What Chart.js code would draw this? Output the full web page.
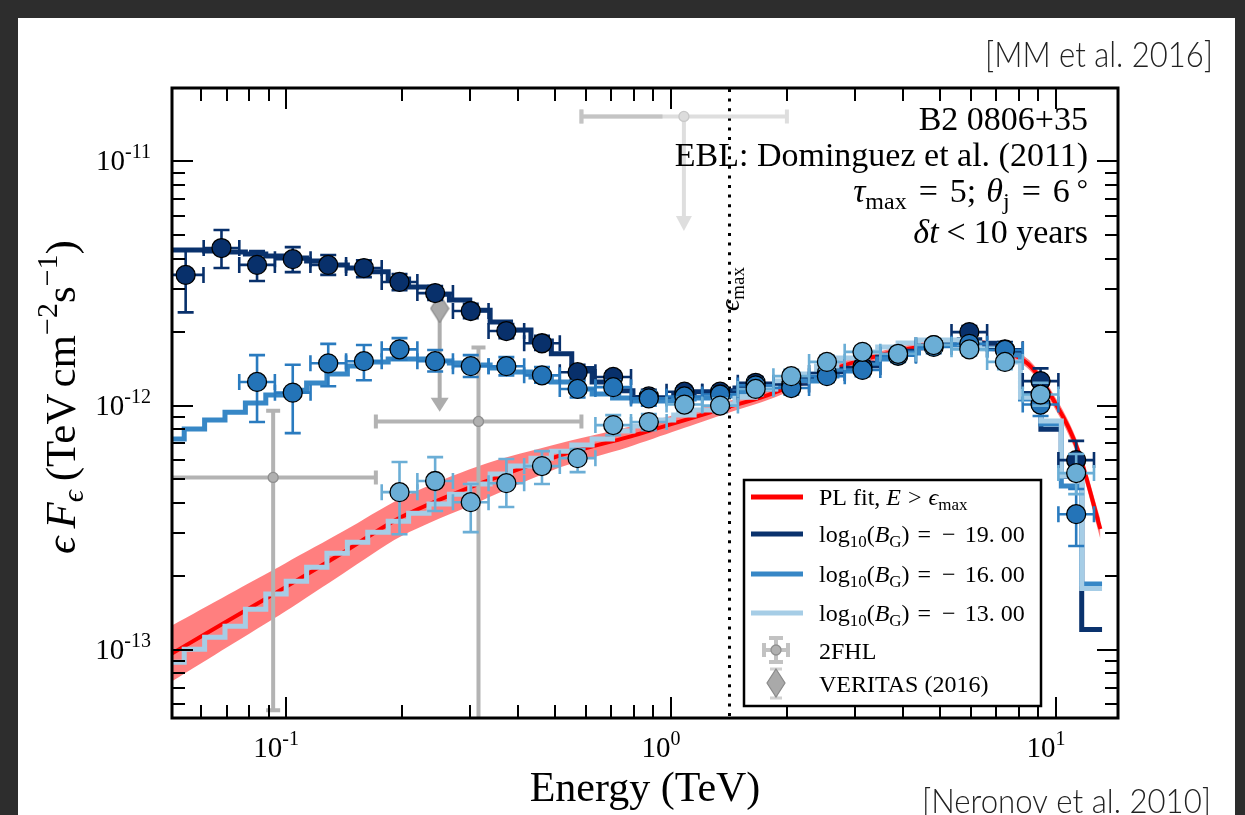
<!DOCTYPE html>
<html>
<head>
<meta charset="utf-8">
<script src="https://cdn.jsdelivr.net/npm/chart.js@4.4.1/dist/chart.umd.min.js"></script>
<style>
  html, body { margin: 0; padding: 0; width: 1245px; height: 815px; overflow: hidden; background: #2d2d2d; }
  #slide { position: absolute; left: 18px; top: 18px; width: 1217px; height: 797px; background: #ffffff; }
  #sed { position: absolute; left: 0; top: 0; }
</style>
</head>
<body>
<div id="slide"></div>
<canvas id="sed" width="1245" height="815"></canvas>
<script>
// ---------------------------------------------------------------------------
// Spectral energy distribution of B2 0806+35: simulated cascade spectra for
// three IGMF strengths, the intrinsic power-law fit and archival data.
// ---------------------------------------------------------------------------

// Energy bins of the simulated observed spectra (TeV)
const binEnergy = [0.0548, 0.0679, 0.0840, 0.1040, 0.1286, 0.1592, 0.1970, 0.2438, 0.3017, 0.3733,
                   0.4620, 0.5717, 0.7075, 0.8755, 1.083, 1.341, 1.659, 2.053, 2.541, 3.144,
                   3.890, 4.814, 5.957, 7.372, 9.123, 11.29];
const binLow    = [0.04926, 0.06104, 0.07551, 0.09349, 0.1156, 0.1431, 0.1771, 0.2192, 0.2712, 0.3356,
                   0.4153, 0.5139, 0.6360, 0.7870, 0.9735, 1.205, 1.491, 1.845, 2.284, 2.826,
                   3.497, 4.327, 5.355, 6.627, 8.201, 10.15];
const binHigh   = [0.06097, 0.07554, 0.09345, 0.1157, 0.1431, 0.1771, 0.2192, 0.2712, 0.3356, 0.4153,
                   0.5140, 0.6360, 0.7871, 0.9740, 1.205, 1.492, 1.846, 2.284, 2.827, 3.498,
                   4.328, 5.356, 6.627, 8.201, 10.15, 12.56];

// log10(B_G) = -19 : simulated data points (TeV cm^-2 s^-1)
const darkFlux = [3.43e-12, 4.42e-12, 3.77e-12, 3.98e-12, 3.77e-12, 3.66e-12, 3.21e-12, 2.89e-12, 2.44e-12, 2.02e-12,
                  1.80e-12, 1.37e-12, 1.31e-12, 1.09e-12, 1.14e-12, 1.14e-12, 1.24e-12, 1.22e-12, 1.36e-12, 1.44e-12,
                  1.61e-12, 1.77e-12, 2.00e-12, 1.70e-12, 1.26e-12, 5.98e-13];
const darkHi   = [4.37e-12, 5.24e-12, 4.30e-12, 4.46e-12, 4.14e-12, 3.94e-12, 3.46e-12, 3.09e-12, 2.61e-12, 2.16e-12,
                  1.93e-12, 1.47e-12, 1.38e-12, 1.16e-12, 1.20e-12, 1.20e-12, 1.31e-12, 1.30e-12, 1.44e-12, 1.52e-12,
                  1.70e-12, 1.87e-12, 2.12e-12, 1.82e-12, 1.42e-12, 7.17e-13];
const darkLo   = [2.41e-12, 3.66e-12, 3.24e-12, 3.52e-12, 3.43e-12, 3.36e-12, 2.97e-12, 2.71e-12, 2.28e-12, 1.89e-12,
                  1.69e-12, 1.28e-12, 1.24e-12, 1.03e-12, 1.07e-12, 1.07e-12, 1.17e-12, 1.16e-12, 1.28e-12, 1.36e-12,
                  1.52e-12, 1.67e-12, 1.89e-12, 1.60e-12, 1.11e-12, 5.09e-13];

// log10(B_G) = -16
const midFlux = [null, null, 1.25e-12, 1.13e-12, 1.49e-12, 1.52e-12, 1.70e-12, 1.52e-12, 1.45e-12, 1.45e-12,
                 1.33e-12, 1.17e-12, 1.19e-12, 1.07e-12, 1.09e-12, 1.11e-12, 1.21e-12, 1.18e-12, 1.32e-12, 1.40e-12,
                 1.60e-12, 1.74e-12, 1.79e-12, 1.69e-12, 1.01e-12, 3.59e-13];
const midHi   = [null, null, 1.61e-12, 1.47e-12, 1.79e-12, 1.77e-12, 1.89e-12, 1.69e-12, 1.61e-12, 1.58e-12,
                 1.44e-12, 1.26e-12, 1.27e-12, 1.15e-12, 1.16e-12, 1.18e-12, 1.28e-12, 1.25e-12, 1.40e-12, 1.48e-12,
                 1.69e-12, 1.84e-12, 1.89e-12, 1.80e-12, 1.14e-12, 4.55e-13];
const midLo   = [null, null, 8.56e-13, 7.71e-13, 1.20e-12, 1.27e-12, 1.54e-12, 1.38e-12, 1.31e-12, 1.33e-12,
                 1.24e-12, 1.08e-12, 1.11e-12, 1.00e-12, 1.03e-12, 1.05e-12, 1.15e-12, 1.11e-12, 1.25e-12, 1.32e-12,
                 1.51e-12, 1.64e-12, 1.69e-12, 1.58e-12, 9.06e-13, 2.66e-13];

// log10(B_G) = -13
const lightFlux = [null, null, null, null, null, null, 4.42e-13, 4.91e-13, 4.02e-13, 4.81e-13,
                   5.65e-13, 6.09e-13, 8.32e-13, 8.56e-13, 1.01e-12, 1.00e-12, 1.17e-12, 1.32e-12, 1.51e-12, 1.66e-12,
                   1.63e-12, 1.77e-12, 1.70e-12, 1.51e-12, 1.11e-12, 5.29e-13];
const lightHi   = [null, null, null, null, null, null, 5.87e-13, 6.15e-13, 4.77e-13, 6.04e-13,
                   6.51e-13, 6.63e-13, 9.14e-13, 9.23e-13, 1.08e-12, 1.07e-12, 1.24e-12, 1.40e-12, 1.60e-12, 1.75e-12,
                   1.72e-12, 1.87e-12, 1.80e-12, 1.61e-12, 1.24e-12, 6.33e-13];
const lightLo   = [null, null, null, null, null, null, 2.97e-13, 3.70e-13, 3.03e-13, 3.84e-13,
                   4.77e-13, 5.34e-13, 7.57e-13, 7.93e-13, 9.49e-13, 9.40e-13, 1.10e-12, 1.25e-12, 1.42e-12, 1.56e-12,
                   1.54e-12, 1.67e-12, 1.61e-12, 1.41e-12, 1.00e-12, 4.34e-13];

// Binned model spectra: left edges of the model bins (last entry = right end)
const modelEdges = [0.04808, 0.05433, 0.06138, 0.06934, 0.07834, 0.08851, 0.1000, 0.1130, 0.1276, 0.1442,
                    0.1629, 0.1841, 0.2080, 0.2350, 0.2655, 0.2999, 0.3388, 0.3828, 0.4325, 0.4887,
                    0.5521, 0.6237, 0.7047, 0.7962, 0.8995, 1.016, 1.148, 1.297, 1.466, 1.656,
                    1.871, 2.113, 2.388, 2.698, 3.048, 3.443, 3.890, 4.395, 4.966, 5.610,
                    6.339, 7.161, 8.091, 9.141, 10.33, 11.67, 13.18];
const modelDark  = [4.34e-12, 4.34e-12, 4.30e-12, 4.26e-12, 4.18e-12, 4.10e-12, 4.02e-12, 3.91e-12, 3.77e-12, 3.66e-12,
                    3.53e-12, 3.30e-12, 3.06e-12, 2.86e-12, 2.71e-12, 2.46e-12, 2.20e-12, 2.04e-12, 1.84e-12, 1.63e-12,
                    1.42e-12, 1.25e-12, 1.15e-12, 1.08e-12, 1.06e-12, 1.10e-12, 1.14e-12, 1.15e-12, 1.18e-12, 1.21e-12,
                    1.25e-12, 1.30e-12, 1.35e-12, 1.41e-12, 1.49e-12, 1.58e-12, 1.67e-12, 1.75e-12, 1.82e-12, 1.86e-12,
                    1.80e-12, 1.67e-12, 1.12e-12, 8.00e-13, 5.14e-13, 1.21e-13];
const modelMid   = [7.29e-13, 8.01e-13, 8.72e-13, 9.40e-13, 1.024e-12, 1.104e-12, 1.157e-12, 1.236e-12, 1.346e-12, 1.452e-12,
                    1.508e-12, 1.551e-12, 1.551e-12, 1.522e-12, 1.494e-12, 1.466e-12, 1.424e-12, 1.372e-12, 1.309e-12, 1.248e-12,
                    1.168e-12, 1.115e-12, 1.073e-12, 1.043e-12, 1.043e-12, 1.063e-12, 1.073e-12, 1.094e-12, 1.136e-12, 1.168e-12,
                    1.213e-12, 1.260e-12, 1.321e-12, 1.385e-12, 1.466e-12, 1.551e-12, 1.641e-12, 1.721e-12, 1.770e-12, 1.770e-12,
                    1.721e-12, 1.611e-12, 1.063e-12, 8.40e-13, 4.68e-13, 1.86e-13];
const modelLight = [8.89e-14, 1.005e-13, 1.125e-13, 1.248e-13, 1.466e-13, 1.689e-13, 1.909e-13, 2.178e-13, 2.486e-13, 2.758e-13,
                    3.031e-13, 3.362e-13, 3.625e-13, 3.948e-13, 4.338e-13, 4.769e-13, 5.240e-13, 5.650e-13, 6.091e-13, 6.507e-13,
                    6.887e-13, 7.289e-13, 7.862e-13, 8.241e-13, 8.721e-13, 9.143e-13, 9.585e-13, 1.014e-12, 1.083e-12, 1.168e-12,
                    1.260e-12, 1.346e-12, 1.452e-12, 1.565e-12, 1.657e-12, 1.737e-12, 1.804e-12, 1.855e-12, 1.855e-12, 1.804e-12,
                    1.704e-12, 1.508e-12, 1.083e-12, 8.639e-13, 5.142e-13, 1.78e-13];

// Power-law fit above epsilon_max (EBL absorbed) with its uncertainty band
const fitEnergy = [0.0501, 0.0709, 0.0996, 0.141, 0.199, 0.3156, 0.518, 0.773, 1.043, 1.406,
                   1.754, 3.056, 5.79, 8.29, 10.10, 11.38, 13.05];
const fitFlux   = [9.58e-14, 1.321e-13, 1.804e-13, 2.509e-13, 3.491e-13, 4.768e-13, 6.27e-13, 7.428e-13, 8.557e-13, 9.86e-13,
                   1.094e-12, 1.522e-12, 1.820e-12, 1.522e-12, 9.86e-13, 6.63e-13, 3.12e-13];
const fitUpper  = [1.248e-13, 1.688e-13, 2.262e-13, 3.060e-13, 4.177e-13, 5.649e-13, 7.02e-13, 8.165e-13, 9.230e-13, 1.043e-12,
                   1.147e-12, 1.580e-12, 1.890e-12, 1.590e-12, 1.045e-12, 7.10e-13, 3.42e-13];
const fitLower  = [7.36e-14, 1.033e-13, 1.438e-13, 2.058e-13, 2.918e-13, 4.022e-13, 5.598e-13, 6.758e-13, 7.935e-13, 9.32e-13,
                   1.043e-12, 1.466e-12, 1.752e-12, 1.455e-12, 9.30e-13, 6.18e-13, 2.84e-13];

// Fermi-LAT 2FHL: two detections and one upper limit
const fhlEnergy = [0.0925, 0.316];
const fhlLow    = [0.050, 0.171];
const fhlHigh   = [0.171, 0.585];
const fhlFlux   = [5.08e-13, 8.61e-13];
const fhlFluxLo = [5.65e-14, 1.0e-14];
const fhlFluxHi = [9.52e-13, 1.73e-12];
const fhlUlEnergy = [1.08];
const fhlUlLow    = [0.585];
const fhlUlHigh   = [2.0];
const fhlUlFlux   = [1.53e-11];
const fhlUlArrow  = [5.19e-12];
const fhlUlInner  = [0.95];

// VERITAS (2016) upper limit
const verEnergy = [0.2505];
const verFlux   = [2.50e-12];
const verArrow  = [9.43e-13];

// Maximum energy of the fit range
const epsMax = 1.414;

// Axis ticks
const xTickValues = [0.1, 1, 10];
const xTickLabels = [['10', '-1'], ['10', '0'], ['10', '1']];
const yTickValues = [1e-13, 1e-12, 1e-11];
const yTickLabels = [['10', '-13'], ['10', '-12'], ['10', '-11']];

// Legend entries
const legendBField = ['19.', '16.', '13.'];

// ---------------------------------------------------------------------------
const SERIF = "'Liberation Serif','Times New Roman','DejaVu Serif',serif";
const C_DARK_LINE = '#0a326d', C_MID_LINE = '#3787c6', C_LIGHT_LINE = '#a6cde6';
const C_DARK_PT = '#08306b', C_MID_PT = '#2474b8', C_LIGHT_PT = '#6baed6';
const C_GREY = '#b3b3b3';

function pts(xs, ys) {
  const out = [];
  xs.forEach((x, i) => { if (ys[i] !== null) out.push({ x: x, y: ys[i] }); });
  return out;
}
function stepPts(edges, vals) {
  return edges.map((e, k) => ({ x: e, y: vals[Math.min(k, vals.length - 1)] }));
}

function diamondImage(w, h, fill, stroke) {
  const cv = document.createElement('canvas');
  cv.width = w + 2; cv.height = h + 2;
  const g = cv.getContext('2d');
  g.beginPath();
  g.moveTo(w / 2 + 1, 1); g.lineTo(w + 1, h / 2 + 1); g.lineTo(w / 2 + 1, h + 1); g.lineTo(1, h / 2 + 1);
  g.closePath();
  g.fillStyle = fill; g.fill();
  g.strokeStyle = stroke; g.lineWidth = 1.2; g.stroke();
  return cv;
}
const diamond = diamondImage(18, 28, '#a9a9a9', '#8a8a8a');

// rich text: list of {t, s (size), i (italic), dy, g (extra gap)}
function fontOf(p) { return (p.i ? 'italic ' : '') + p.s + 'px ' + SERIF; }
function richWidth(ctx, parts) {
  let w = 0;
  for (const p of parts) { ctx.font = fontOf(p); w += ctx.measureText(p.t).width + (p.g || 0); }
  return w;
}
function drawRich(ctx, parts, x, y, align) {
  const w = richWidth(ctx, parts);
  let cx = align === 'right' ? x - w : (align === 'center' ? x - w / 2 : x);
  ctx.textAlign = 'left'; ctx.textBaseline = 'alphabetic';
  for (const p of parts) {
    ctx.font = fontOf(p);
    ctx.fillText(p.t, cx, y + (p.dy || 0));
    cx += ctx.measureText(p.t).width + (p.g || 0);
  }
}

function arrowHead(ctx, x, yTip, len, half) {
  ctx.beginPath();
  ctx.moveTo(x, yTip); ctx.lineTo(x - half, yTip - len); ctx.lineTo(x + half, yTip - len);
  ctx.closePath(); ctx.fill();
}

// error bars / upper-limit arrows attached to a dataset
function drawErrors(chart, eb) {
  const ctx = chart.ctx, X = chart.scales.x, Y = chart.scales.y, a = chart.chartArea;
  ctx.save();
  ctx.beginPath(); ctx.rect(a.left, a.top, a.right - a.left, a.bottom - a.top); ctx.clip();
  ctx.strokeStyle = eb.color; ctx.fillStyle = eb.color; ctx.lineWidth = eb.width; ctx.lineCap = 'butt';
  const c = eb.cap;
  eb.x.forEach((xv, i) => {
    if (eb.y[i] === null) return;
    const x = X.getPixelForValue(xv), y = Y.getPixelForValue(eb.y[i]);
    ctx.beginPath();
    if (eb.xlo) {
      const x0 = X.getPixelForValue(eb.xlo[i]), x1 = X.getPixelForValue(eb.xhi[i]);
      ctx.moveTo(x0, y); ctx.lineTo(x1, y);
      ctx.moveTo(x0, y - c); ctx.lineTo(x0, y + c);
      ctx.moveTo(x1, y - c); ctx.lineTo(x1, y + c);
    }
    if (eb.ylo) {
      const y0 = Y.getPixelForValue(eb.ylo[i]), y1 = Y.getPixelForValue(eb.yhi[i]);
      ctx.moveTo(x, y0); ctx.lineTo(x, y1);
      ctx.moveTo(x - c, y0); ctx.lineTo(x + c, y0);
      ctx.moveTo(x - c, y1); ctx.lineTo(x + c, y1);
    }
    ctx.stroke();
    if (eb.inner) {
      const x0 = X.getPixelForValue(eb.xlo[i]), xi = X.getPixelForValue(eb.inner[i]);
      ctx.strokeStyle = eb.innerColor;
      ctx.beginPath(); ctx.moveTo(x0, y); ctx.lineTo(xi, y);
      ctx.moveTo(x0, y - c); ctx.lineTo(x0, y + c); ctx.stroke();
      ctx.strokeStyle = eb.color;
    }
    if (eb.arrow) {
      const yt = Y.getPixelForValue(eb.arrow[i]);
      ctx.beginPath(); ctx.moveTo(x, y); ctx.lineTo(x, yt - eb.head + 2); ctx.stroke();
      arrowHead(ctx, x, yt, eb.head, eb.headHalf);
    }
  });
  ctx.restore();
}

const sedPlugin = {
  id: 'sedDecor',
  beforeDatasetsDraw(chart) {
    const ctx = chart.ctx, X = chart.scales.x, a = chart.chartArea;
    const x = Math.round(X.getPixelForValue(epsMax)) + 0.5;
    ctx.save();
    ctx.strokeStyle = '#000'; ctx.lineWidth = 3; ctx.setLineDash([3, 6.6]);
    ctx.beginPath(); ctx.moveTo(x, a.top + 1); ctx.lineTo(x, a.bottom); ctx.stroke();
    ctx.setLineDash([]);
    ctx.translate(x + 9, 289); ctx.rotate(-Math.PI / 2);
    ctx.fillStyle = '#000';
    drawRich(ctx, [{ t: '\u03f5', s: 28, i: true }, { t: 'max', s: 19, dy: 5 }], 0, 0, 'center');
    ctx.restore();
  },
  beforeDatasetDraw(chart, args) {
    const ds = chart.data.datasets[args.index];
    if (ds.errorBars) drawErrors(chart, ds.errorBars);
  },
  afterDraw(chart) {
    const ctx = chart.ctx, X = chart.scales.x, Y = chart.scales.y, a = chart.chartArea;
    ctx.save();
    // ticks on all four sides, pointing inwards
    ctx.strokeStyle = '#000'; ctx.lineWidth = 2;
    ctx.beginPath();
    for (let n = -2; n <= 2; n++) for (let m = 1; m <= 9; m++) {
      const v = m * Math.pow(10, n);
      if (v < X.min || v > X.max) continue;
      const x = Math.round(X.getPixelForValue(v));
      const L = m === 1 ? 21 : 13;
      ctx.moveTo(x, a.bottom); ctx.lineTo(x, a.bottom - L);
      ctx.moveTo(x, a.top); ctx.lineTo(x, a.top + L);
    }
    for (let n = -14; n <= -10; n++) for (let m = 1; m <= 9; m++) {
      const v = m * Math.pow(10, n);
      if (v < Y.min || v > Y.max) continue;
      const y = Math.round(Y.getPixelForValue(v));
      const L = m === 1 ? 21 : 13;
      ctx.moveTo(a.left, y); ctx.lineTo(a.left + L, y);
      ctx.moveTo(a.right, y); ctx.lineTo(a.right - L, y);
    }
    ctx.stroke();
    // frame
    ctx.lineWidth = 3;
    ctx.strokeRect(a.left, a.top, a.right - a.left, a.bottom - a.top);

    // tick labels
    ctx.fillStyle = '#000';
    xTickValues.forEach((v, i) => {
      drawRich(ctx, [{ t: xTickLabels[i][0], s: 29 }, { t: xTickLabels[i][1], s: 20, dy: -12 }],
               X.getPixelForValue(v) - 10, 757, 'center');
    });
    yTickValues.forEach((v, i) => {
      drawRich(ctx, [{ t: yTickLabels[i][0], s: 29 }, { t: yTickLabels[i][1], s: 20, dy: -12 }],
               151, Y.getPixelForValue(v) + 9, 'right');
    });

    // axis titles
    drawRich(ctx, [{ t: 'Energy (TeV)', s: 42 }], (a.left + a.right) / 2, 801, 'center');
    ctx.save();
    ctx.translate(75, 397); ctx.rotate(-Math.PI / 2);
    drawRich(ctx, [
      { t: '\u03f5', s: 43, i: true, g: 8 },
      { t: 'F', s: 43, i: true },
      { t: '\u03f5', s: 30, i: true, dy: 8, g: 9 },
      { t: '(TeV', s: 43, g: 6 },
      { t: 'cm', s: 43 },
      { t: '\u2212', s: 30, dy: -18 },
      { t: '2', s: 30, dy: -18 },
      { t: 's', s: 43 },
      { t: '\u2212', s: 30, dy: -18 },
      { t: '1', s: 30, dy: -18 },
      { t: ')', s: 43 }
    ], 0, 0, 'center');
    ctx.restore();

    // source annotation
    const R = 1088;
    drawRich(ctx, [{ t: 'B2 0806+35', s: 34 }], R, 130, 'right');
    drawRich(ctx, [{ t: 'EBL: Dominguez et al. (2011)', s: 34 }], R, 166, 'right');
    drawRich(ctx, [
      { t: '\u03c4', s: 34, i: true }, { t: 'max', s: 24, dy: 7, g: 12 }, { t: '=', s: 34, g: 12 },
      { t: '5;', s: 34, g: 10 },
      { t: '\u03b8', s: 34, i: true }, { t: 'j', s: 24, dy: 7, g: 12 }, { t: '=', s: 34, g: 12 },
      { t: '6', s: 34, g: 7 }, { t: '\u00b0', s: 28, dy: -4 }
    ], R, 202, 'right');
    drawRich(ctx, [{ t: '\u03b4t', s: 34, i: true, g: 8 }, { t: '<', s: 34, g: 8 }, { t: '10 years', s: 34 }], R, 243, 'right');

    // legend
    const L0 = 744, T0 = 480, W = 297, H = 226;
    ctx.fillStyle = '#fff'; ctx.fillRect(L0, T0, W, H);
    ctx.strokeStyle = '#000'; ctx.lineWidth = 2.5; ctx.strokeRect(L0, T0, W, H);
    const lx0 = 751, lx1 = 803, tx = 819;
    const rowsY = [497, 534, 574, 613];
    const rowCol = ['#ff0000', C_DARK_LINE, C_MID_LINE, C_LIGHT_LINE];
    ctx.lineWidth = 5; ctx.lineCap = 'butt';
    rowsY.forEach((y, i) => {
      ctx.strokeStyle = rowCol[i];
      ctx.beginPath(); ctx.moveTo(lx0, y); ctx.lineTo(lx1, y); ctx.stroke();
    });
    ctx.fillStyle = '#000';
    drawRich(ctx, [
      { t: 'PL fit, ', s: 24 }, { t: 'E', s: 24, i: true, g: 7 }, { t: '>', s: 24, g: 7 },
      { t: '\u03f5', s: 24, i: true }, { t: 'max', s: 17, dy: 5 }
    ], tx, 505, 'left');
    legendBField.forEach((b, i) => {
      drawRich(ctx, [
        { t: 'log', s: 24 }, { t: '10', s: 17, dy: 5 }, { t: '(', s: 24 },
        { t: 'B', s: 24, i: true }, { t: 'G', s: 17, dy: 5 }, { t: ')', s: 24, g: 8 },
        { t: '=', s: 24, g: 11 }, { t: '\u2212', s: 24, g: 9 }, { t: b, s: 24, g: 6 }, { t: '00', s: 24 }
      ], tx, 542 + 39.5 * i, 'left');
    });
    // 2FHL symbol
    ctx.strokeStyle = '#c2c2c2'; ctx.lineWidth = 4;
    ctx.beginPath();
    ctx.moveTo(764, 650); ctx.lineTo(788, 650); ctx.moveTo(776, 638); ctx.lineTo(776, 662);
    ctx.moveTo(764, 643); ctx.lineTo(764, 657); ctx.moveTo(788, 643); ctx.lineTo(788, 657);
    ctx.moveTo(769, 638); ctx.lineTo(783, 638); ctx.moveTo(769, 662); ctx.lineTo(783, 662);
    ctx.stroke();
    ctx.beginPath(); ctx.arc(776, 650, 5, 0, Math.PI * 2);
    ctx.fillStyle = '#b0b0b0'; ctx.fill(); ctx.strokeStyle = '#909090'; ctx.lineWidth = 1.3; ctx.stroke();
    // VERITAS symbol
    ctx.strokeStyle = '#d0d0d0'; ctx.lineWidth = 3;
    ctx.beginPath(); ctx.moveTo(776, 669); ctx.lineTo(776, 698);
    ctx.moveTo(770, 669); ctx.lineTo(782, 669); ctx.moveTo(770, 698); ctx.lineTo(782, 698); ctx.stroke();
    ctx.drawImage(diamond, 776 - diamond.width / 2, 683 - diamond.height / 2);
    ctx.fillStyle = '#000';
    drawRich(ctx, [{ t: '2FHL', s: 24 }], tx, 659, 'left');
    drawRich(ctx, [{ t: 'VERITAS (2016)', s: 24 }], tx, 692, 'left');

    // references
    ctx.fillStyle = '#222';
    const cite = (txt, right, base, size, width) => {
      ctx.font = '300 ' + size + "px Lato, 'Open Sans', sans-serif";
      const w = ctx.measureText(txt).width;
      const k = width / w;
      ctx.save(); ctx.translate(right - width, base); ctx.scale(k, 1);
      ctx.textAlign = 'left'; ctx.fillText(txt, 0, 0); ctx.restore();
    };
    cite('[MM et al. 2016]', 1213, 67, 35, 228);
    cite('[Neronov et al. 2010]', 1211, 813, 34, 289);
    ctx.restore();
  }
};

const datasets = [];
let drawOrder = 100;
function add(ds) { ds.order = drawOrder--; datasets.push(ds); }

// fit band and central fit
add({ data: pts(fitEnergy, fitUpper), borderWidth: 0, pointRadius: 0, fill: '+1',
      backgroundColor: 'rgba(255,0,0,0.5)', tension: 0.3 });
add({ data: pts(fitEnergy, fitLower), borderWidth: 0, pointRadius: 0, fill: false, tension: 0.3 });
add({ data: pts(fitEnergy, fitFlux), borderColor: '#ff0000', borderWidth: 4, pointRadius: 0, fill: false,
      tension: 0.3 });

// binned model spectra
[[modelDark, C_DARK_LINE], [modelMid, C_MID_LINE], [modelLight, C_LIGHT_LINE]].forEach(([vals, col]) => {
  add({ data: stepPts(modelEdges, vals), stepped: 'before', borderColor: col, borderWidth: 5,
        pointRadius: 0, fill: false, borderCapStyle: 'butt' });
});

// 2FHL upper limit, detections and VERITAS upper limit
add({ data: pts(fhlUlEnergy, fhlUlFlux), showLine: false, pointRadius: 5, pointBackgroundColor: '#dcdcdc',
      pointBorderColor: '#c8c8c8', pointBorderWidth: 1.3,
      errorBars: { x: fhlUlEnergy, y: fhlUlFlux, xlo: fhlUlLow, xhi: fhlUlHigh, arrow: fhlUlArrow,
                   inner: fhlUlInner, innerColor: '#c4c4c4',
                   color: '#dedede', width: 4, cap: 7, head: 15, headHalf: 8 } });
add({ data: pts(fhlEnergy, fhlFlux), showLine: false, pointRadius: 5, pointBackgroundColor: '#b0b0b0',
      pointBorderColor: '#8f8f8f', pointBorderWidth: 1.3,
      errorBars: { x: fhlEnergy, y: fhlFlux, xlo: fhlLow, xhi: fhlHigh, ylo: fhlFluxLo, yhi: fhlFluxHi,
                   color: C_GREY, width: 4, cap: 7 } });
add({ data: pts(verEnergy, verFlux), showLine: false, pointStyle: diamond, pointRadius: 14,
      errorBars: { x: verEnergy, y: verFlux, arrow: verArrow, color: '#adadad', width: 4, cap: 0,
                   head: 14, headHalf: 9 } });

// simulated data points
[[darkFlux, darkLo, darkHi, C_DARK_PT, C_DARK_PT],
 [midFlux, midLo, midHi, C_MID_PT, '#2a7bbf'],
 [lightFlux, lightLo, lightHi, C_LIGHT_PT, '#6baed6']].forEach(([f, lo, hi, col, ecol]) => {
  add({ data: pts(binEnergy, f), showLine: false, pointRadius: 9.5, pointBackgroundColor: col,
        pointBorderColor: '#000', pointBorderWidth: 1.3,
        errorBars: { x: binEnergy, y: f, xlo: binLow, xhi: binHigh, ylo: lo, yhi: hi,
                     color: ecol, width: 2.6, cap: 8 } });
});

new Chart(document.getElementById('sed'), {
  type: 'line',
  data: { datasets: datasets },
  options: {
    responsive: false,
    devicePixelRatio: 1,
    animation: false,
    events: [],
    layout: { padding: { left: 172, top: 88, right: 127, bottom: 97 } },
    plugins: { legend: { display: false }, tooltip: { enabled: false } },
    scales: {
      x: { type: 'logarithmic', min: 0.0505, max: 14.5, display: false },
      y: { type: 'logarithmic', min: 5.25e-14, max: 2.0e-11, display: false }
    }
  },
  plugins: [sedPlugin]
});
</script>
</body>
</html>
